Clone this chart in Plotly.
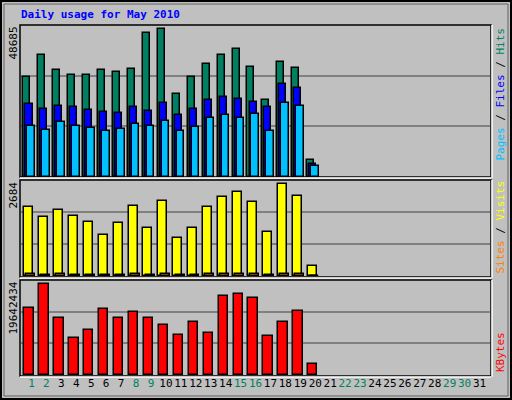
import plotly.graph_objects as go

# Daily usage for May 2010 (webalizer style)
days = list(range(1, 32))
data_days = list(range(1, 21))
weekend = [1, 2, 8, 9, 15, 16, 22, 23, 29, 30]

hits = [32030, 39080, 34270, 32670, 32670, 34270, 33630, 34590, 46120, 47400,
        26580, 32030, 36190, 39080, 41000, 35230, 24660, 36830, 34910, 5450]
files = [23380, 21780, 22740, 22420, 21460, 20820, 20500, 22420, 21140, 23700,
         19860, 21780, 24660, 25620, 24980, 24020, 22420, 29790, 28510, 4160]
pages = [16340, 15050, 17620, 16340, 15690, 14730, 15370, 16980, 16340, 17940,
         14730, 16010, 18900, 19860, 18900, 20180, 14730, 23700, 22740, 3520]
visits = [1929, 1650, 1845, 1678, 1510, 1146, 1482, 1957, 1342, 2097,
          1062, 1342, 1929, 2209, 2349, 2069, 1230, 2572, 2237, 280]
sites = [45, 40, 45, 42, 40, 35, 40, 45, 38, 48, 35, 38, 45, 48, 50, 45, 38, 52, 48, 12]
kbytes = [13850000, 18820000, 11790000, 7650000, 9300000, 13650000, 11790000, 13030000,
          11790000, 10340000, 8270000, 10960000, 8680000, 16330000, 16750000, 15920000,
          8060000, 10960000, 13230000, 2270000]

max_hits = 48685
max_visits = 2684
max_kb = 19642434

W, H = 512, 400
font = "DejaVu Sans Mono"

def py(p):
    return 1 - p / H

def px_(p):
    return p / W

fig = go.Figure()

def bars(y, color, offset, width, axis):
    fig.add_trace(go.Bar(x=data_days, y=y, offset=offset, width=width,
                         marker=dict(color=color, line=dict(color="black", width=1.5)),
                         xaxis=axis[0], yaxis=axis[1], showlegend=False))

bars(hits, "#008060", -0.54, 0.47, ("x", "y"))
bars(files, "#0000FF", -0.40, 0.47, ("x", "y"))
bars(pages, "#00C0FF", -0.27, 0.5, ("x", "y"))
bars(visits, "#FFFF00", -0.5, 0.6, ("x2", "y2"))
bars(sites, "#FF8000", -0.35, 0.6, ("x2", "y2"))
bars(kbytes, "#FF0000", -0.47, 0.62, ("x3", "y3"))

ticktext = ["<span style='color:%s'>%d</span>" % ("#008060" if d in weekend else "black", d)
            for d in days]

xcommon = dict(range=[0.3, 31.7], domain=[px_(21), px_(490)], showgrid=False,
               zeroline=False, fixedrange=True)
ycommon = dict(showticklabels=False, showgrid=True, gridcolor="#808080", gridwidth=1.5,
               zeroline=False, ticks="")

fig.update_layout(
    width=W, height=H, margin=dict(l=0, r=0, t=0, b=0),
    paper_bgcolor="#C0C0C0", plot_bgcolor="#C0C0C0",
    barmode="overlay", bargap=0,
    font=dict(family=font, size=11, color="black"),
    xaxis=dict(xcommon, anchor="y", showticklabels=False),
    xaxis2=dict(xcommon, anchor="y2", showticklabels=False),
    xaxis3=dict(xcommon, anchor="y3", tickvals=days, ticktext=ticktext, ticks="",
                tickangle=0, tickfont=dict(size=11)),
    yaxis=dict(ycommon, domain=[py(177), py(25)], range=[0, max_hits],
               tickvals=[max_hits / 3, 2 * max_hits / 3]),
    yaxis2=dict(ycommon, domain=[py(276), py(180)], range=[0, max_visits],
                tickvals=[max_visits / 3, 2 * max_visits / 3]),
    yaxis3=dict(ycommon, domain=[py(375), py(280)], range=[0, max_kb],
                tickvals=[max_kb / 3, 2 * max_kb / 3]),
)

shapes = [dict(type="rect", xref="paper", yref="paper", x0=px_(1), x1=px_(511),
               y0=py(399), y1=py(1), line=dict(color="black", width=2)),
          dict(type="rect", xref="paper", yref="paper", x0=px_(4), x1=px_(508),
               y0=py(396), y1=py(4), line=dict(color="#606060", width=1))]
for top, bot in [(25, 177), (180, 277), (280, 376)]:
    shapes.append(dict(type="rect", xref="paper", yref="paper", x0=px_(20), x1=px_(491),
                       y0=py(bot), y1=py(top), line=dict(color="black", width=1.5)))
    shapes.append(dict(type="line", xref="paper", yref="paper", x0=px_(20), x1=px_(491),
                       y0=py(bot + 1), y1=py(bot + 1), line=dict(color="white", width=1.5)))
    shapes.append(dict(type="line", xref="paper", yref="paper", x0=px_(492), x1=px_(492),
                       y0=py(bot + 1), y1=py(top), line=dict(color="white", width=1.5)))
fig.update_layout(shapes=shapes)

ann = [dict(text="<b>Daily usage for May 2010</b>", x=px_(19), y=py(15), xanchor="left",
            yanchor="middle", font=dict(size=11, color="#0000FF", family=font)),
       dict(text="48685", x=px_(13), y=py(25), yanchor="top", textangle=-90),
       dict(text="2684", x=px_(13), y=py(180), yanchor="top", textangle=-90),
       dict(text="19642434", x=px_(13), y=py(280), yanchor="top", textangle=-90),
       dict(text="<span style='color:#00C0FF'>Pages</span> / <span style='color:#0000FF'>Files</span>"
                 " / <span style='color:#008060'>Hits</span>",
            x=px_(500), y=py(26), yanchor="top", textangle=-90),
       dict(text="<span style='color:#FF8000'>Sites</span> / <span style='color:#FFFF00'>Visits</span>",
            x=px_(500), y=py(276), yanchor="bottom", textangle=-90),
       dict(text="<span style='color:#FF0000'>KBytes</span>",
            x=px_(500), y=py(374), yanchor="bottom", textangle=-90)]
for a in ann:
    a.setdefault("xref", "paper")
    a.setdefault("yref", "paper")
    a.setdefault("showarrow", False)
    a.setdefault("xanchor", "center")
fig.update_layout(annotations=ann)

fig.write_html("out.html", config={"displayModeBar": False},
               post_script="document.body.style.margin='0';")
